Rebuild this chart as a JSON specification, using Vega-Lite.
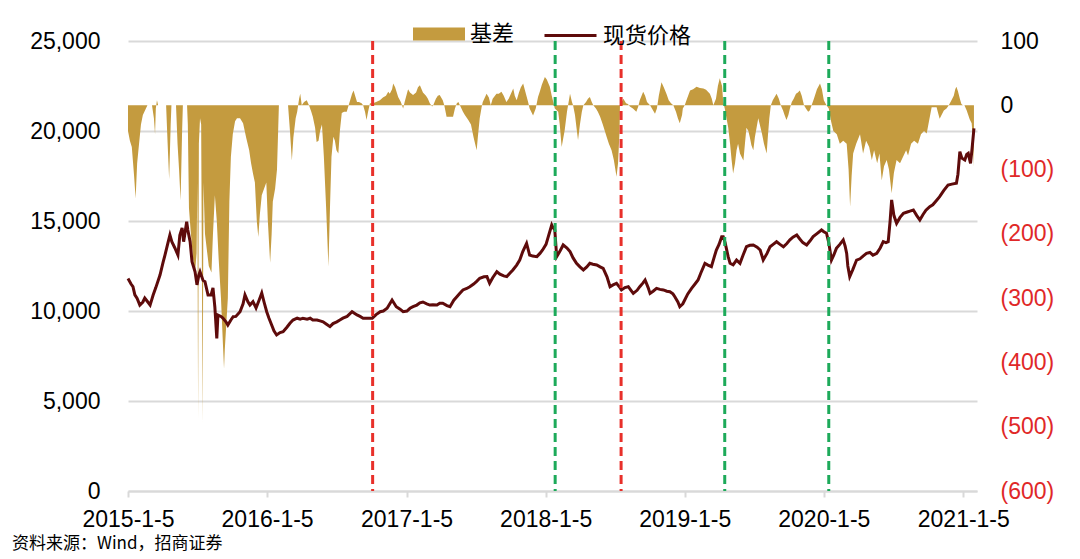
{
"$schema":"https://vega.github.io/schema/vega-lite/v6.json",
"width":849,"height":450,
"autosize":{"type":"none"},
"padding":{"left":128,"top":41,"right":103,"bottom":68},
"background":"white",
"config":{"view":{"stroke":null},"font":"Liberation Sans"},
"title":{"text":"资料来源：Wind，招商证券","orient":"bottom","anchor":"start","frame":"group","dx":-116,"offset":5,"fontSize":17,"fontWeight":"normal","font":"Noto Sans CJK SC","color":"#000000"},
"datasets":{
"price":[
{"date":"2015-01-05","price":11800},{"date":"2015-01-13","price":11500},{"date":"2015-01-18","price":11350},{"date":"2015-01-23","price":10900},{"date":"2015-01-29","price":10700},{"date":"2015-02-05","price":10330},{"date":"2015-02-13","price":10500},{"date":"2015-02-18","price":10720},{"date":"2015-02-26","price":10500},{"date":"2015-03-04","price":10330},{"date":"2015-03-12","price":10890},{"date":"2015-03-19","price":11300},{"date":"2015-03-30","price":12000},{"date":"2015-04-07","price":12700},{"date":"2015-04-12","price":13110},{"date":"2015-04-20","price":13800},{"date":"2015-04-25","price":14220},{"date":"2015-04-30","price":13850},{"date":"2015-05-08","price":13500},{"date":"2015-05-16","price":13110},{"date":"2015-05-21","price":14200},{"date":"2015-05-27","price":14610},{"date":"2015-05-31","price":13850},{"date":"2015-06-08","price":14960},{"date":"2015-06-11","price":14500},{"date":"2015-06-17","price":13850},{"date":"2015-06-22","price":12740},{"date":"2015-06-30","price":12180},{"date":"2015-07-05","price":11450},{"date":"2015-07-10","price":12000},{"date":"2015-07-13","price":12180},{"date":"2015-07-21","price":11700},{"date":"2015-07-26","price":11630},{"date":"2015-08-03","price":10890},{"date":"2015-08-11","price":10890},{"date":"2015-08-16","price":11280},{"date":"2015-08-21","price":10200},{"date":"2015-08-26","price":8480},{"date":"2015-08-29","price":9780},{"date":"2015-09-06","price":9700},{"date":"2015-09-11","price":9610},{"date":"2015-09-19","price":9400},{"date":"2015-09-24","price":9220},{"date":"2015-10-02","price":9500},{"date":"2015-10-08","price":9680},{"date":"2015-10-15","price":9700},{"date":"2015-10-26","price":9960},{"date":"2015-11-03","price":10400},{"date":"2015-11-08","price":10890},{"date":"2015-11-16","price":10500},{"date":"2015-11-21","price":10330},{"date":"2015-11-29","price":10520},{"date":"2015-12-07","price":10170},{"date":"2015-12-15","price":10600},{"date":"2015-12-22","price":11000},{"date":"2015-12-28","price":10500},{"date":"2016-01-04","price":9960},
{"date":"2016-01-10","price":9600},{"date":"2016-01-17","price":9220},{"date":"2016-01-23","price":8900},{"date":"2016-01-30","price":8670},{"date":"2016-02-08","price":8800},{"date":"2016-02-16","price":8850},{"date":"2016-02-26","price":9100},{"date":"2016-03-05","price":9320},{"date":"2016-03-13","price":9500},{"date":"2016-03-24","price":9600},{"date":"2016-04-01","price":9550},{"date":"2016-04-08","price":9600},{"date":"2016-04-19","price":9550},{"date":"2016-04-27","price":9600},{"date":"2016-05-04","price":9500},{"date":"2016-05-15","price":9500},{"date":"2016-05-23","price":9450},{"date":"2016-05-31","price":9400},{"date":"2016-06-10","price":9250},{"date":"2016-06-18","price":9130},{"date":"2016-06-26","price":9300},{"date":"2016-07-06","price":9400},{"date":"2016-07-14","price":9500},{"date":"2016-07-22","price":9600},{"date":"2016-08-02","price":9700},{"date":"2016-08-15","price":9960},{"date":"2016-08-28","price":9780},{"date":"2016-09-05","price":9700},{"date":"2016-09-13","price":9600},{"date":"2016-09-24","price":9600},{"date":"2016-10-07","price":9600},{"date":"2016-10-17","price":9800},{"date":"2016-10-28","price":9960},{"date":"2016-11-05","price":10000},{"date":"2016-11-15","price":10150},{"date":"2016-11-28","price":10610},{"date":"2016-12-09","price":10240},{"date":"2016-12-19","price":10100},{"date":"2016-12-27","price":9960},
{"date":"2017-01-06","price":10000},{"date":"2017-01-14","price":10150},{"date":"2017-01-22","price":10240},{"date":"2017-02-01","price":10330},{"date":"2017-02-09","price":10450},{"date":"2017-02-17","price":10500},{"date":"2017-02-27","price":10400},{"date":"2017-03-07","price":10330},{"date":"2017-03-15","price":10350},{"date":"2017-03-26","price":10330},{"date":"2017-04-02","price":10430},{"date":"2017-04-10","price":10430},{"date":"2017-04-21","price":10300},{"date":"2017-04-29","price":10240},{"date":"2017-05-09","price":10600},{"date":"2017-05-17","price":10790},{"date":"2017-05-25","price":10980},{"date":"2017-06-02","price":11170},{"date":"2017-06-12","price":11250},{"date":"2017-06-20","price":11350},{"date":"2017-06-30","price":11500},{"date":"2017-07-08","price":11650},{"date":"2017-07-16","price":11820},{"date":"2017-07-27","price":11900},{"date":"2017-08-04","price":11910},{"date":"2017-08-11","price":11540},{"date":"2017-08-19","price":11850},{"date":"2017-08-30","price":12180},{"date":"2017-09-07","price":12050},{"date":"2017-09-17","price":11950},{"date":"2017-09-25","price":11910},{"date":"2017-10-03","price":12100},{"date":"2017-10-11","price":12280},{"date":"2017-10-21","price":12550},{"date":"2017-10-29","price":12830},{"date":"2017-11-06","price":13300},{"date":"2017-11-16","price":13760},{"date":"2017-11-24","price":13110},{"date":"2017-12-02","price":13050},{"date":"2017-12-13","price":13020},{"date":"2017-12-21","price":13200},{"date":"2017-12-28","price":13390},
{"date":"2018-01-06","price":13700},{"date":"2018-01-12","price":14130},{"date":"2018-01-21","price":14780},{"date":"2018-01-24","price":14650},{"date":"2018-01-29","price":14500},{"date":"2018-02-03","price":13020},{"date":"2018-02-11","price":13300},{"date":"2018-02-20","price":13670},{"date":"2018-03-02","price":13500},{"date":"2018-03-10","price":13300},{"date":"2018-03-18","price":12950},{"date":"2018-03-27","price":12650},{"date":"2018-04-05","price":12450},{"date":"2018-04-14","price":12280},{"date":"2018-04-23","price":12450},{"date":"2018-05-01","price":12650},{"date":"2018-05-09","price":12600},{"date":"2018-05-19","price":12560},{"date":"2018-05-28","price":12450},{"date":"2018-06-05","price":12370},{"date":"2018-06-15","price":11900},{"date":"2018-06-23","price":11350},{"date":"2018-07-01","price":11450},{"date":"2018-07-10","price":11540},{"date":"2018-07-19","price":11300},{"date":"2018-07-23","price":11170},{"date":"2018-08-01","price":11300},{"date":"2018-08-10","price":11350},{"date":"2018-08-17","price":11150},{"date":"2018-08-23","price":10980},{"date":"2018-09-02","price":11150},{"date":"2018-09-09","price":11350},{"date":"2018-09-17","price":11550},{"date":"2018-09-23","price":11720},{"date":"2018-10-01","price":11300},{"date":"2018-10-06","price":10980},{"date":"2018-10-14","price":11100},{"date":"2018-10-23","price":11260},{"date":"2018-11-01","price":11200},{"date":"2018-11-10","price":11170},{"date":"2018-11-19","price":11100},{"date":"2018-11-27","price":11070},{"date":"2018-12-05","price":10950},{"date":"2018-12-10","price":10790},{"date":"2018-12-18","price":10500},{"date":"2018-12-23","price":10240},{"date":"2018-12-31","price":10400},
{"date":"2019-01-05","price":10610},{"date":"2019-01-13","price":10950},{"date":"2019-01-23","price":11260},{"date":"2019-02-01","price":11500},{"date":"2019-02-09","price":11720},{"date":"2019-02-16","price":12100},{"date":"2019-02-27","price":12650},{"date":"2019-03-07","price":12550},{"date":"2019-03-16","price":12460},{"date":"2019-03-22","price":12900},{"date":"2019-03-29","price":13390},{"date":"2019-04-05","price":13700},{"date":"2019-04-12","price":14130},{"date":"2019-04-16","price":14130},{"date":"2019-04-21","price":13800},{"date":"2019-04-29","price":13020},{"date":"2019-05-04","price":12650},{"date":"2019-05-12","price":12560},{"date":"2019-05-21","price":12830},{"date":"2019-05-30","price":12650},{"date":"2019-06-07","price":13100},{"date":"2019-06-16","price":13570},{"date":"2019-06-25","price":13650},{"date":"2019-07-04","price":13670},{"date":"2019-07-14","price":13550},{"date":"2019-07-22","price":13390},{"date":"2019-07-30","price":12830},{"date":"2019-08-09","price":13200},{"date":"2019-08-17","price":13570},{"date":"2019-08-25","price":13700},{"date":"2019-09-03","price":13850},{"date":"2019-09-12","price":13700},{"date":"2019-09-21","price":13570},{"date":"2019-09-30","price":13750},{"date":"2019-10-08","price":13950},{"date":"2019-10-16","price":14100},{"date":"2019-10-26","price":14220},{"date":"2019-11-03","price":14000},{"date":"2019-11-11","price":13800},{"date":"2019-11-21","price":13670},{"date":"2019-11-30","price":13900},{"date":"2019-12-08","price":14130},{"date":"2019-12-18","price":14300},{"date":"2019-12-30","price":14500},
{"date":"2020-01-05","price":14400},{"date":"2020-01-12","price":14320},{"date":"2020-01-18","price":13800},{"date":"2020-01-25","price":12830},{"date":"2020-01-31","price":13100},{"date":"2020-02-07","price":13480},{"date":"2020-02-16","price":13700},{"date":"2020-02-25","price":13950},{"date":"2020-03-01","price":13600},{"date":"2020-03-05","price":13200},{"date":"2020-03-08","price":12500},{"date":"2020-03-13","price":11910},{"date":"2020-03-21","price":12300},{"date":"2020-03-31","price":12830},{"date":"2020-04-09","price":12900},{"date":"2020-04-17","price":13050},{"date":"2020-04-26","price":13200},{"date":"2020-05-05","price":13250},{"date":"2020-05-13","price":13100},{"date":"2020-05-23","price":13200},{"date":"2020-06-01","price":13500},{"date":"2020-06-09","price":13850},{"date":"2020-06-16","price":13800},{"date":"2020-06-22","price":13850},{"date":"2020-06-27","price":15000},{"date":"2020-07-01","price":16170},{"date":"2020-07-07","price":15300},{"date":"2020-07-14","price":14870},{"date":"2020-07-23","price":15200},{"date":"2020-08-01","price":15430},{"date":"2020-08-11","price":15500},{"date":"2020-08-18","price":15550},{"date":"2020-08-27","price":15610},{"date":"2020-09-05","price":15300},{"date":"2020-09-13","price":15060},{"date":"2020-09-21","price":15350},{"date":"2020-09-29","price":15600},{"date":"2020-10-09","price":15800},{"date":"2020-10-17","price":15900},{"date":"2020-10-25","price":16100},{"date":"2020-11-04","price":16350},{"date":"2020-11-15","price":16700},{"date":"2020-11-26","price":17000},{"date":"2020-12-06","price":17050},{"date":"2020-12-18","price":17100},{"date":"2020-12-22","price":17600},{"date":"2020-12-27","price":18850},
{"date":"2021-01-01","price":18500},{"date":"2021-01-09","price":18390},{"date":"2021-01-14","price":18700},{"date":"2021-01-18","price":18760},{"date":"2021-01-24","price":18200},{"date":"2021-01-28","price":19000},{"date":"2021-02-02","price":20150}
],
"basis":[
{"date":"2015-01-05","basis":-40},{"date":"2015-01-10","basis":-55},{"date":"2015-01-15","basis":-65},{"date":"2015-01-21","basis":-110},{"date":"2015-01-25","basis":-145},{"date":"2015-01-29","basis":-90},{"date":"2015-02-03","basis":-60},{"date":"2015-02-08","basis":-30},{"date":"2015-02-13","basis":-15},{"date":"2015-02-21","basis":-5},{"date":"2015-02-25","basis":0},{"date":"2015-03-09","basis":0},{"date":"2015-03-14","basis":-20},{"date":"2015-03-17","basis":-45},{"date":"2015-03-19","basis":-5},{"date":"2015-03-22","basis":8},{"date":"2015-03-25","basis":0},{"date":"2015-04-15","basis":0},{"date":"2015-04-19","basis":-60},{"date":"2015-04-23","basis":-115},{"date":"2015-04-27","basis":-30},{"date":"2015-04-29","basis":0},{"date":"2015-05-11","basis":0},{"date":"2015-05-15","basis":-60},{"date":"2015-05-19","basis":-100},{"date":"2015-05-23","basis":-148},{"date":"2015-05-27","basis":-40},{"date":"2015-05-29","basis":0},{"date":"2015-06-09","basis":0},{"date":"2015-06-11","basis":-30},{"date":"2015-06-14","basis":-160},{"date":"2015-06-19","basis":-200},{"date":"2015-06-25","basis":-240},{"date":"2015-06-30","basis":-260},{"date":"2015-07-04","basis":-230},{"date":"2015-07-06","basis":-120},{"date":"2015-07-08","basis":-490},{"date":"2015-07-10","basis":-60},{"date":"2015-07-13","basis":-20},{"date":"2015-07-16","basis":-30},{"date":"2015-07-20","basis":-495},{"date":"2015-07-22","basis":-120},{"date":"2015-07-26","basis":-200},{"date":"2015-07-31","basis":-225},{"date":"2015-08-05","basis":-250},{"date":"2015-08-12","basis":-260},{"date":"2015-08-16","basis":-200},{"date":"2015-08-21","basis":-140},{"date":"2015-08-26","basis":-180},{"date":"2015-08-31","basis":-240},{"date":"2015-09-06","basis":-300},{"date":"2015-09-11","basis":-370},{"date":"2015-09-14","basis":-410},{"date":"2015-09-16","basis":-380},{"date":"2015-09-20","basis":-340},{"date":"2015-09-24","basis":-300},{"date":"2015-09-28","basis":-150},{"date":"2015-10-02","basis":-80},{"date":"2015-10-07","basis":-45},{"date":"2015-10-13","basis":-25},{"date":"2015-10-18","basis":-20},{"date":"2015-10-26","basis":-20},{"date":"2015-11-03","basis":-28},{"date":"2015-11-11","basis":-50},{"date":"2015-11-19","basis":-70},{"date":"2015-11-24","basis":-90},{"date":"2015-11-29","basis":-106},{"date":"2015-12-04","basis":-120},{"date":"2015-12-09","basis":-180},{"date":"2015-12-13","basis":-205},{"date":"2015-12-17","basis":-170},{"date":"2015-12-22","basis":-140},{"date":"2015-12-28","basis":-130},{"date":"2016-01-03","basis":-120},
{"date":"2016-01-07","basis":-180},{"date":"2016-01-13","basis":-245},{"date":"2016-01-17","basis":-200},{"date":"2016-01-20","basis":-150},{"date":"2016-01-26","basis":-130},{"date":"2016-01-31","basis":-100},{"date":"2016-02-03","basis":-40},{"date":"2016-02-05","basis":0},{"date":"2016-02-29","basis":0},{"date":"2016-03-05","basis":-40},{"date":"2016-03-10","basis":-86},{"date":"2016-03-14","basis":-50},{"date":"2016-03-20","basis":-20},{"date":"2016-03-24","basis":-10},{"date":"2016-03-29","basis":10},{"date":"2016-04-01","basis":18},{"date":"2016-04-05","basis":0},{"date":"2016-04-11","basis":5},{"date":"2016-04-18","basis":8},{"date":"2016-04-24","basis":0},{"date":"2016-04-30","basis":-10},{"date":"2016-05-04","basis":-18},{"date":"2016-05-10","basis":-35},{"date":"2016-05-14","basis":-57},{"date":"2016-05-19","basis":-55},{"date":"2016-05-23","basis":-40},{"date":"2016-05-28","basis":-30},{"date":"2016-06-02","basis":-80},{"date":"2016-06-08","basis":-160},{"date":"2016-06-14","basis":-251},{"date":"2016-06-18","basis":-160},{"date":"2016-06-22","basis":-80},{"date":"2016-06-27","basis":-49},{"date":"2016-07-01","basis":-55},{"date":"2016-07-05","basis":-70},{"date":"2016-07-10","basis":-75},{"date":"2016-07-14","basis":-40},{"date":"2016-07-19","basis":-12},{"date":"2016-07-25","basis":-10},{"date":"2016-08-01","basis":-10},{"date":"2016-08-06","basis":0},{"date":"2016-08-10","basis":8},{"date":"2016-08-15","basis":18},{"date":"2016-08-19","basis":23},{"date":"2016-08-23","basis":15},{"date":"2016-08-28","basis":5},{"date":"2016-09-02","basis":5},{"date":"2016-09-09","basis":3},{"date":"2016-09-13","basis":0},{"date":"2016-09-18","basis":-10},{"date":"2016-09-22","basis":-23},{"date":"2016-09-26","basis":-10},{"date":"2016-10-01","basis":3},{"date":"2016-10-09","basis":3},{"date":"2016-10-17","basis":5},{"date":"2016-10-27","basis":8},{"date":"2016-11-04","basis":12},{"date":"2016-11-12","basis":15},{"date":"2016-11-18","basis":21},{"date":"2016-11-22","basis":18},{"date":"2016-11-28","basis":25},{"date":"2016-12-01","basis":34},{"date":"2016-12-06","basis":28},{"date":"2016-12-14","basis":13},{"date":"2016-12-21","basis":5},{"date":"2016-12-27","basis":-5},{"date":"2016-12-31","basis":5},
{"date":"2017-01-09","basis":25},{"date":"2017-01-14","basis":20},{"date":"2017-01-22","basis":16},{"date":"2017-01-30","basis":20},{"date":"2017-02-04","basis":28},{"date":"2017-02-09","basis":31},{"date":"2017-02-17","basis":20},{"date":"2017-02-25","basis":15},{"date":"2017-03-02","basis":10},{"date":"2017-03-07","basis":3},{"date":"2017-03-13","basis":-2},{"date":"2017-03-16","basis":0},{"date":"2017-03-23","basis":10},{"date":"2017-03-28","basis":15},{"date":"2017-04-02","basis":16},{"date":"2017-04-10","basis":8},{"date":"2017-04-14","basis":0},{"date":"2017-04-20","basis":-18},{"date":"2017-04-29","basis":-18},{"date":"2017-05-07","basis":-18},{"date":"2017-05-12","basis":-5},{"date":"2017-05-17","basis":3},{"date":"2017-05-21","basis":5},{"date":"2017-05-25","basis":0},{"date":"2017-06-02","basis":-10},{"date":"2017-06-07","basis":-15},{"date":"2017-06-16","basis":-23},{"date":"2017-06-23","basis":-30},{"date":"2017-06-30","basis":-50},{"date":"2017-07-08","basis":-70},{"date":"2017-07-11","basis":-50},{"date":"2017-07-16","basis":-20},{"date":"2017-07-21","basis":-3},{"date":"2017-07-24","basis":5},{"date":"2017-08-03","basis":18},{"date":"2017-08-09","basis":12},{"date":"2017-08-14","basis":0},{"date":"2017-08-19","basis":10},{"date":"2017-08-29","basis":18},{"date":"2017-09-04","basis":18},{"date":"2017-09-11","basis":21},{"date":"2017-09-17","basis":15},{"date":"2017-09-24","basis":5},{"date":"2017-09-30","basis":10},{"date":"2017-10-12","basis":26},{"date":"2017-10-16","basis":15},{"date":"2017-10-21","basis":8},{"date":"2017-10-27","basis":20},{"date":"2017-11-01","basis":28},{"date":"2017-11-07","basis":34},{"date":"2017-11-11","basis":25},{"date":"2017-11-20","basis":5},{"date":"2017-11-24","basis":-5},{"date":"2017-12-03","basis":-16},{"date":"2017-12-10","basis":-5},{"date":"2017-12-16","basis":13},{"date":"2017-12-21","basis":22},{"date":"2017-12-26","basis":32},{"date":"2018-01-03","basis":44},
{"date":"2018-01-08","basis":40},{"date":"2018-01-16","basis":29},{"date":"2018-01-21","basis":15},{"date":"2018-01-25","basis":5},{"date":"2018-01-29","basis":-5},{"date":"2018-02-07","basis":-10},{"date":"2018-02-11","basis":-30},{"date":"2018-02-16","basis":-65},{"date":"2018-02-19","basis":-55},{"date":"2018-02-24","basis":-39},{"date":"2018-03-02","basis":-10},{"date":"2018-03-10","basis":18},{"date":"2018-03-15","basis":5},{"date":"2018-03-18","basis":0},{"date":"2018-03-23","basis":-15},{"date":"2018-03-27","basis":-35},{"date":"2018-03-31","basis":-54},{"date":"2018-04-05","basis":-30},{"date":"2018-04-10","basis":-10},{"date":"2018-04-14","basis":0},{"date":"2018-04-21","basis":5},{"date":"2018-04-26","basis":10},{"date":"2018-05-01","basis":13},{"date":"2018-05-06","basis":5},{"date":"2018-05-10","basis":0},{"date":"2018-05-17","basis":-5},{"date":"2018-05-22","basis":-10},{"date":"2018-05-28","basis":-18},{"date":"2018-06-04","basis":-30},{"date":"2018-06-14","basis":-49},{"date":"2018-06-20","basis":-60},{"date":"2018-06-27","basis":-70},{"date":"2018-07-03","basis":-85},{"date":"2018-07-07","basis":-100},{"date":"2018-07-10","basis":-111},{"date":"2018-07-14","basis":-90},{"date":"2018-07-18","basis":-40},{"date":"2018-07-19","basis":0},{"date":"2018-07-28","basis":10},{"date":"2018-08-04","basis":3},{"date":"2018-08-09","basis":2},{"date":"2018-08-14","basis":-2},{"date":"2018-08-22","basis":-5},{"date":"2018-08-31","basis":-10},{"date":"2018-09-05","basis":-2},{"date":"2018-09-09","basis":8},{"date":"2018-09-18","basis":21},{"date":"2018-09-23","basis":15},{"date":"2018-09-28","basis":5},{"date":"2018-10-06","basis":0},{"date":"2018-10-11","basis":-5},{"date":"2018-10-19","basis":-13},{"date":"2018-10-24","basis":-5},{"date":"2018-10-29","basis":15},{"date":"2018-11-05","basis":36},{"date":"2018-11-11","basis":28},{"date":"2018-11-18","basis":18},{"date":"2018-11-24","basis":8},{"date":"2018-11-30","basis":3},{"date":"2018-12-06","basis":0},{"date":"2018-12-13","basis":-10},{"date":"2018-12-18","basis":-20},{"date":"2018-12-23","basis":-28},{"date":"2018-12-29","basis":-15},{"date":"2018-12-31","basis":-5},
{"date":"2019-01-05","basis":0},{"date":"2019-01-11","basis":10},{"date":"2019-01-19","basis":23},{"date":"2019-01-27","basis":25},{"date":"2019-02-05","basis":29},{"date":"2019-02-14","basis":27},{"date":"2019-02-23","basis":26},{"date":"2019-03-02","basis":24},{"date":"2019-03-12","basis":18},{"date":"2019-03-17","basis":10},{"date":"2019-03-21","basis":0},{"date":"2019-03-28","basis":10},{"date":"2019-04-02","basis":30},{"date":"2019-04-07","basis":42},{"date":"2019-04-13","basis":30},{"date":"2019-04-16","basis":5},{"date":"2019-04-20","basis":-5},{"date":"2019-04-29","basis":-34},{"date":"2019-05-04","basis":-60},{"date":"2019-05-08","basis":-85},{"date":"2019-05-12","basis":-106},{"date":"2019-05-17","basis":-90},{"date":"2019-05-21","basis":-70},{"date":"2019-05-25","basis":-60},{"date":"2019-05-30","basis":-75},{"date":"2019-06-03","basis":-80},{"date":"2019-06-08","basis":-86},{"date":"2019-06-12","basis":-60},{"date":"2019-06-16","basis":-35},{"date":"2019-06-21","basis":-40},{"date":"2019-06-25","basis":-50},{"date":"2019-06-29","basis":-62},{"date":"2019-07-04","basis":-70},{"date":"2019-07-08","basis":-50},{"date":"2019-07-14","basis":-30},{"date":"2019-07-17","basis":-20},{"date":"2019-07-21","basis":-30},{"date":"2019-07-27","basis":-45},{"date":"2019-08-01","basis":-60},{"date":"2019-08-08","basis":-75},{"date":"2019-08-11","basis":-50},{"date":"2019-08-15","basis":-20},{"date":"2019-08-19","basis":0},{"date":"2019-08-24","basis":8},{"date":"2019-09-03","basis":18},{"date":"2019-09-09","basis":10},{"date":"2019-09-14","basis":0},{"date":"2019-09-20","basis":-8},{"date":"2019-09-24","basis":-15},{"date":"2019-09-29","basis":-23},{"date":"2019-10-04","basis":-15},{"date":"2019-10-08","basis":-5},{"date":"2019-10-13","basis":5},{"date":"2019-10-18","basis":10},{"date":"2019-10-24","basis":18},{"date":"2019-10-29","basis":20},{"date":"2019-11-03","basis":23},{"date":"2019-11-08","basis":15},{"date":"2019-11-14","basis":0},{"date":"2019-11-19","basis":-5},{"date":"2019-11-25","basis":-10},{"date":"2019-11-29","basis":-8},{"date":"2019-12-04","basis":0},{"date":"2019-12-10","basis":10},{"date":"2019-12-18","basis":25},{"date":"2019-12-26","basis":34},{"date":"2019-12-31","basis":25},
{"date":"2020-01-05","basis":8},{"date":"2020-01-12","basis":0},{"date":"2020-01-18","basis":-5},{"date":"2020-01-24","basis":-25},{"date":"2020-01-30","basis":-40},{"date":"2020-02-08","basis":-45},{"date":"2020-02-16","basis":-60},{"date":"2020-02-25","basis":-55},{"date":"2020-03-05","basis":-60},{"date":"2020-03-10","basis":-100},{"date":"2020-03-14","basis":-158},{"date":"2020-03-18","basis":-110},{"date":"2020-03-22","basis":-75},{"date":"2020-03-30","basis":-60},{"date":"2020-04-09","basis":-45},{"date":"2020-04-17","basis":-75},{"date":"2020-04-25","basis":-55},{"date":"2020-05-03","basis":-65},{"date":"2020-05-10","basis":-85},{"date":"2020-05-16","basis":-70},{"date":"2020-05-24","basis":-90},{"date":"2020-05-30","basis":-75},{"date":"2020-06-05","basis":-117},{"date":"2020-06-11","basis":-95},{"date":"2020-06-18","basis":-85},{"date":"2020-06-24","basis":-100},{"date":"2020-07-01","basis":-137},{"date":"2020-07-07","basis":-105},{"date":"2020-07-14","basis":-85},{"date":"2020-07-23","basis":-90},{"date":"2020-07-31","basis":-80},{"date":"2020-08-08","basis":-70},{"date":"2020-08-13","basis":-78},{"date":"2020-08-21","basis":-60},{"date":"2020-08-29","basis":-55},{"date":"2020-09-08","basis":-60},{"date":"2020-09-16","basis":-45},{"date":"2020-09-24","basis":-40},{"date":"2020-10-01","basis":-44},{"date":"2020-10-07","basis":-25},{"date":"2020-10-14","basis":-3},{"date":"2020-10-27","basis":-3},{"date":"2020-10-30","basis":-10},{"date":"2020-11-04","basis":-21},{"date":"2020-11-09","basis":-15},{"date":"2020-11-15","basis":-8},{"date":"2020-11-22","basis":-5},{"date":"2020-11-28","basis":0},{"date":"2020-12-05","basis":8},{"date":"2020-12-11","basis":15},{"date":"2020-12-15","basis":25},{"date":"2020-12-18","basis":29},{"date":"2020-12-22","basis":22},{"date":"2020-12-27","basis":10},{"date":"2020-12-31","basis":2},
{"date":"2021-01-04","basis":0},{"date":"2021-01-08","basis":0},{"date":"2021-01-14","basis":-8},{"date":"2021-01-18","basis":-15},{"date":"2021-01-22","basis":-22},{"date":"2021-01-27","basis":-28},{"date":"2021-01-30","basis":-50},{"date":"2021-02-02","basis":-96}
],
"events":[
{"date":"2016-10-08","kind":"A"},{"date":"2018-01-30","kind":"B"},{"date":"2018-07-22","kind":"A"},{"date":"2019-04-20","kind":"B"},{"date":"2020-01-18","kind":"B"}
]
},
"layer":[
{"data":{"name":"basis"},
 "mark":{"type":"area","opacity":1,"interpolate":"linear"},
 "encoding":{
  "x":{"field":"date","type":"temporal",
   "scale":{"domain":[{"year":2015,"month":1,"date":5},{"year":2021,"month":2,"date":10}],"nice":false},
   "axis":{"values":[{"year":2015,"month":1,"date":5},{"year":2016,"month":1,"date":5},{"year":2017,"month":1,"date":5},{"year":2018,"month":1,"date":5},{"year":2019,"month":1,"date":5},{"year":2020,"month":1,"date":5},{"year":2021,"month":1,"date":5}],
    "labelExpr":"timeFormat(datum.value, '%Y-%-m-%-d')","title":null,"grid":false,
    "domainColor":"#D9D9D9","domainWidth":2,"tickColor":"#D9D9D9","tickWidth":2,"tickSize":6,
    "labelPadding":11,"labelFontSize":23,"labelColor":"#000000","labelFont":"Liberation Sans","labelFlush":false,"labelOverlap":false}},
  "y":{"field":"basis","type":"quantitative","scale":{"domain":[-600,100],"nice":false,"zero":false},
   "axis":{"orient":"right","values":[100,0,-100,-200,-300,-400,-500,-600],
    "labelExpr":"datum.value < 0 ? '(' + format(-datum.value, ',') + ')' : format(datum.value, ',')",
    "labelColor":{"condition":{"test":"datum.value < 0","value":"#E02828"},"value":"#000000"},
    "grid":false,"domain":false,"ticks":false,"labelPadding":23,"labelFontSize":23,"labelFont":"Liberation Sans","title":null}},
  "y2":{"datum":0},
  "fill":{"datum":"基差","scale":{"range":["#C49B3F"]},
   "legend":{"orient":"none","legendX":285,"legendY":-33,"title":null,"symbolType":"M-1,-0.25H1V0.25H-1Z","symbolSize":2704,"symbolStrokeWidth":0,"symbolOpacity":1,"labelFontSize":22,"labelFont":"Noto Sans CJK SC","labelColor":"#000000","labelOffset":5,"padding":0}}
 }},
{"data":{"name":"price"},
 "mark":{"type":"line","strokeWidth":3,"interpolate":"linear"},
 "encoding":{
  "x":{"field":"date","type":"temporal"},
  "y":{"field":"price","type":"quantitative","scale":{"domain":[0,25000],"nice":false},
   "axis":{"orient":"left","values":[0,5000,10000,15000,20000,25000],"labelExpr":"format(datum.value, ',.0f')","grid":true,"gridColor":"#D9D9D9","gridWidth":2,
    "domain":false,"ticks":false,"labelPadding":28,"labelFontSize":23,"labelFont":"Liberation Sans","labelColor":"#000000","title":null}},
  "stroke":{"datum":"现货价格","scale":{"range":["#5E0B0B"]},
   "legend":{"orient":"none","legendX":415,"legendY":-33,"title":null,"symbolType":"M-1,0H1","symbolSize":2704,"symbolStrokeWidth":3,"labelFontSize":22,"labelFont":"Noto Sans CJK SC","labelColor":"#000000","labelOffset":5,"padding":0}}
 }},
{"data":{"name":"events"},
 "mark":{"type":"rule","strokeDash":[9,5],"strokeWidth":3},
 "encoding":{
  "x":{"field":"date","type":"temporal"},
  "color":{"field":"kind","type":"nominal","scale":{"domain":["A","B"],"range":["#E8302A","#1DAA5A"]},"legend":null}
 }}
],
"resolve":{"scale":{"y":"independent"}}
}
